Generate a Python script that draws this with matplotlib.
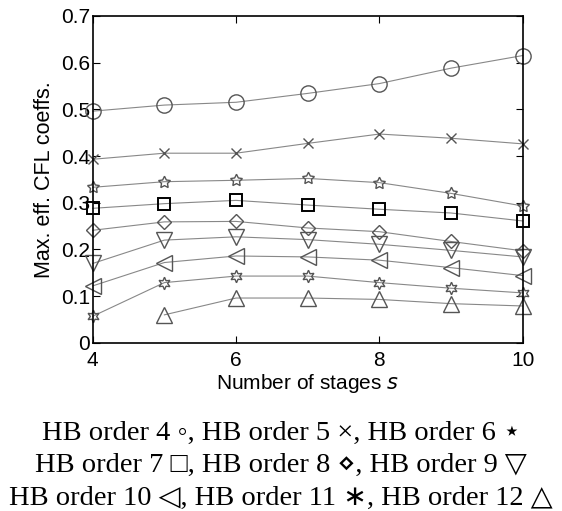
import numpy as np
import matplotlib.pyplot as plt

stages = [4, 5, 6, 7, 8, 9, 10]
hb4 = [0.496, 0.509, 0.515, 0.534, 0.555, 0.588, 0.615]
hb5 = [0.393, 0.406, 0.406, 0.427, 0.447, 0.438, 0.426]
hb6 = [0.333, 0.345, 0.348, 0.352, 0.343, 0.320, 0.293]
hb7 = [0.288, 0.298, 0.305, 0.295, 0.286, 0.278, 0.261]
hb8 = [0.241, 0.259, 0.260, 0.246, 0.238, 0.217, 0.197]
hb9 = [0.170, 0.220, 0.227, 0.221, 0.211, 0.198, 0.184]
hb10 = [0.122, 0.172, 0.186, 0.184, 0.177, 0.161, 0.144]
hb11 = [0.057, 0.129, 0.143, 0.143, 0.129, 0.117, 0.107]
hb12 = [np.nan, 0.060, 0.096, 0.096, 0.093, 0.084, 0.079]

series = [hb4, hb5, hb6, hb7, hb8, hb9, hb10, hb11, hb12]
markers = ['o', 'x', (5, 1, 0), 's', 'D', 'v', '<', (6, 1, 0), '^']
msizes = [11, 7, 9, 9, 7, 11, 11, 9, 11]

fig = plt.figure(figsize=(5.62, 5.11), dpi=100)
ax = fig.add_axes([0.165, 0.329, 0.765, 0.64])

for vals, m, ms in zip(series, markers, msizes):
    col = 'black' if m == 's' else '#555555'
    ax.plot(stages, vals, color='#888888', lw=0.8, marker=m, ms=ms,
            mfc='none', mec=col, mew=1.0 if m != 's' else 1.4, clip_on=False)

ax.set_xlim(4, 10)
ax.set_ylim(0, 0.7)
ax.set_xticks([4, 6, 8, 10])
ax.set_yticks(np.arange(0, 0.71, 0.1))
ax.set_yticklabels(['0', '0.1', '0.2', '0.3', '0.4', '0.5', '0.6', '0.7'])
ax.tick_params(direction='in', top=True, right=True, length=5, labelsize=15)
ax.tick_params(axis='x', pad=6)
ax.tick_params(axis='y', pad=2)
for lab in ax.get_xticklabels() + ax.get_yticklabels():
    lab.set_family('Liberation Sans')
for sp in ax.spines.values():
    sp.set_linewidth(1.2)

ax.set_xlabel('Number of stages $s$', family='Liberation Sans', fontsize=15,
              labelpad=1)
ax.set_ylabel('Max. eff. CFL coeffs.', family='Liberation Sans', fontsize=15.5,
              labelpad=4)

caption = ['HB order 4 \u25e6, HB order 5 \u00d7, HB order 6 \u22c6',
           'HB order 7 \u25a1, HB order 8 \u22c4, HB order 9 \u25bd',
           'HB order 10 \u25c1, HB order 11 \u2217, HB order 12 \u25b3']
for i, line in enumerate(caption):
    fig.text(0.5, 1 - (433 + 32.5 * i) / 511, line, ha='center', va='center',
             fontsize=20.5, family=['Liberation Serif', 'DejaVu Sans'])

fig.savefig('out.png', dpi=100)
